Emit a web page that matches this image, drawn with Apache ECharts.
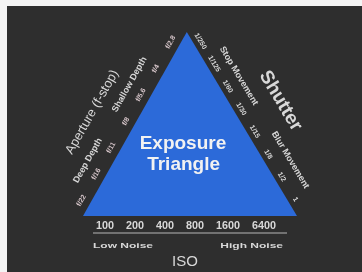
<!DOCTYPE html>
<html>
<head>
<meta charset="utf-8">
<script src="https://cdn.jsdelivr.net/npm/echarts@6/dist/echarts.min.js"></script>
<style>
  html, body { margin: 0; padding: 0; background: #fff; }
  #chart { width: 362px; height: 272px; }
</style>
</head>
<body>
<div id="chart"></div>
<script>
// triangle corners in axis units: base left, apex, base right
const corners = [[0, 0], [0.485, 1], [1, 0]];
const centerTitle = ['Exposure', 'Triangle'];

const isoStops = ['100', '200', '400', '800', '1600', '6400'];
const isoNotes = ['Low Noise', 'High Noise'];
const isoTitle = 'ISO';

const fStops = ['f/22', 'f/16', 'f/11', 'f/8', 'f/5.6', 'f/4', 'f/2.8'];
const apertureNotes = ['Deep Depth', 'Shallow Depth'];
const apertureTitle = 'Aperture (f-stop)';

const shutterSpeeds = ['1/250', '1/125', '1/60', '1/30', '1/15', '1/8', '1/2', '1'];
const shutterNotes = ['Stop Movement', 'Blur Movement'];
const shutterTitle = 'Shutter';

const BLUE = '#2c6ad9';
const TEXT = '#d8d8d8';
const FONT = 'Liberation Sans, Arial, sans-serif';

// text placed along an edge, t = fraction along it, off = px outward
function along(p1, p2, t, off, text, font, fill) {
    const dx = p2[0] - p1[0], dy = p2[1] - p1[1];
    const len = Math.hypot(dx, dy);
    return {
        type: 'text',
        x: p1[0] + dx * t + dy / len * off,
        y: p1[1] + dy * t - dx / len * off,
        rotation: Math.atan2(-dy, dx),
        style: { text: text, font: font, fill: fill || TEXT, align: 'center', verticalAlign: 'middle' }
    };
}

function flat(x, y, text, font, align, sx) {
    return {
        type: 'text', x: x, y: y, scaleX: sx || 1,
        style: { text: text, font: font, fill: TEXT, align: align || 'center', verticalAlign: 'middle' }
    };
}

function renderItem(params, api) {
    const A = api.coord(corners[0]);
    const P = api.coord(corners[1]);
    const C = api.coord(corners[2]);
    const mid = (A[0] + C[0]) / 2;
    const kids = [];

    kids.push({ type: 'polygon', shape: { points: [A, P, C] }, style: { fill: BLUE } });

    // centre title
    const t1 = api.coord([0.467, 0.395]);
    const t2 = api.coord([0.47, 0.28]);
    kids.push({ type: 'text', x: t1[0], y: t1[1], style: { text: centerTitle[0], font: 'bold 19px ' + FONT, fill: '#f2f2f2', align: 'center', verticalAlign: 'middle' } });
    kids.push({ type: 'text', x: t2[0], y: t2[1], style: { text: centerTitle[1], font: 'bold 19px ' + FONT, fill: '#f2f2f2', align: 'center', verticalAlign: 'middle' } });

    // aperture side
    fStops.forEach(function (s, i) {
        kids.push(along(A, P, 0.06 + i * 0.86 / (fStops.length - 1), 9, s, 'bold 7px ' + FONT, '#d9c8cc'));
    });
    kids.push(along(A, P, 0.24, 23, apertureNotes[0], 'bold 9px ' + FONT));
    kids.push(along(A, P, 0.65, 24, apertureNotes[1], 'bold 9px ' + FONT));
    kids.push(along(A, P, 0.45, 43, apertureTitle, '13px ' + FONT));

    // shutter side
    shutterSpeeds.forEach(function (s, i) {
        kids.push(along(P, C, 0.07 + i * 0.86 / (shutterSpeeds.length - 1), 7, s, 'bold 7px ' + FONT));
    });
    kids.push(along(P, C, 0.30, 22, shutterNotes[0], 'bold 9px ' + FONT));
    kids.push(along(P, C, 0.76, 23, shutterNotes[1], 'bold 9px ' + FONT));
    kids.push(along(P, C, 0.5, 45, shutterTitle, 'bold 19px ' + FONT));

    // iso side
    kids.push(flat(mid - 4, A[1] + 10, isoStops.join('    '), 'bold 10px ' + FONT, 'center', 1.08));
    kids.push({ type: 'line', shape: { x1: A[0] + 10, y1: A[1] + 17, x2: C[0] - 10, y2: A[1] + 17 }, style: { stroke: '#8a8a8a', lineWidth: 1.5 } });
    kids.push(flat(A[0] + 10, A[1] + 30, isoNotes[0], 'bold 8px ' + FONT, 'left', 1.5));
    kids.push(flat(C[0] - 14, A[1] + 30, isoNotes[1], 'bold 8px ' + FONT, 'right', 1.5));
    kids.push(flat(mid - 5, A[1] + 46, isoTitle, '15px ' + FONT));

    return { type: 'group', children: kids };
}

const chart = echarts.init(document.getElementById('chart'));
chart.setOption({
    backgroundColor: '#2e2e2e',
    animation: false,
    grid: { left: 83, top: 32, width: 214, height: 184 },
    xAxis: { type: 'value', min: 0, max: 1, show: false },
    yAxis: { type: 'value', min: 0, max: 1, show: false },
    graphic: [
        { type: 'rect', shape: { x: 0, y: 0, width: 362, height: 6 }, style: { fill: '#f4f4f4' } },
        { type: 'rect', shape: { x: 0, y: 0, width: 7, height: 272 }, style: { fill: '#f4f4f4' } }
    ],
    series: [{
        type: 'custom',
        renderItem: renderItem,
        data: [[0, 0]],
        silent: true
    }]
});
</script>
</body>
</html>
